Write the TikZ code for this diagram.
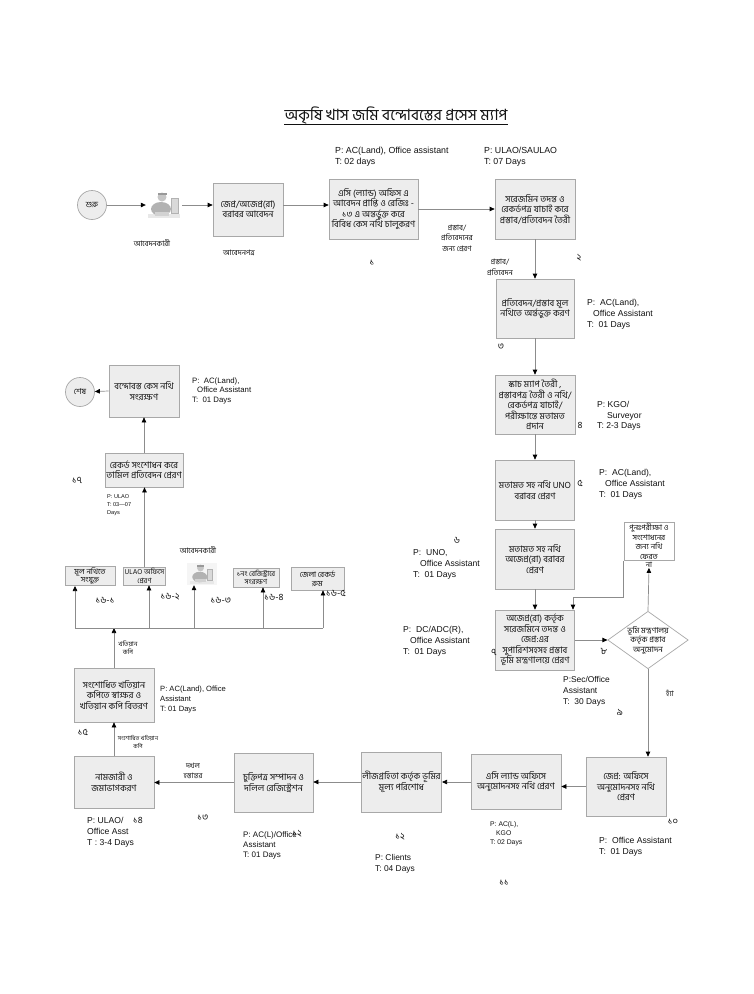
\documentclass[tikz,border=0pt]{standalone}
\usepackage{fontspec}
\setmainfont{Liberation Sans}
\newfontfamily\bn[Script=Bengali]{Hind Siliguri}
\usetikzlibrary{arrows.meta,shapes.geometric,calc}
\definecolor{boxfill}{HTML}{EDEDED}
\definecolor{boxline}{HTML}{A8A8A8}
\definecolor{conn}{HTML}{8C8C8C}
\definecolor{ink}{HTML}{111111}
\tikzset{
  pbox/.style={draw=boxline, line width=0.7pt, fill=boxfill, align=center, inner sep=1pt, text=ink,
     font=\bn\fontsize{9}{10.5}\selectfont},
  sbox/.style={pbox, font=\bn\fontsize{7.8}{8.6}\selectfont},
  flow/.style={draw=conn, line width=0.7pt, -{Triangle[length=5pt,width=4.5pt,color=black]}},
  plain/.style={draw=conn, line width=0.7pt},
  info/.style 2 args={font=\fontsize{#1}{#2}\selectfont, align=left, anchor=north west, inner sep=0pt, text=ink},
  num/.style={font=\bn\fontsize{9.5}{10}\selectfont, inner sep=0pt, text=ink},
  lbl/.style={font=\bn\fontsize{7.5}{10.5}\selectfont, align=center, inner sep=0pt, text=ink},
  term/.style={circle, draw=boxline, line width=0.7pt, fill=boxfill, minimum size=29pt, inner sep=0pt, text=ink, font=\bn\fontsize{8}{9}\selectfont},
  iconbox/.style={inner sep=0pt, minimum width=36pt, minimum height=30pt},
  personpic/.pic={
    \fill[gray!18] (-16,9) rectangle (16,13);
    \fill[gray!30] (7,-7) rectangle (14,8);
    \draw[gray!60, line width=0.4pt] (7,-7) rectangle (14,8);
    \fill[gray!60] (-3,4) ellipse [x radius=10, y radius=7];
    \fill[gray!45] (-2,-8) circle [radius=4.5];
    \fill[gray!80] (-6.5,-12.5) rectangle (2.5,-10);
    \fill[gray!35] (-9,7) rectangle (5,11);
  },
}
\begin{document}
\begin{tikzpicture}[x=1pt,y=-1pt]
\useasboundingbox (0,0) rectangle (754,994);
\fill[white] (0,0) rectangle (754,994);

% title
\node[font=\bn\fontsize{15.5}{17}\selectfont, anchor=base, inner sep=0pt, text=ink] (title) at (396,120) {অকৃষি খাস জমি বন্দোবস্তের প্রসেস ম্যাপ};
\draw[ink, line width=0.7pt] ([yshift=-4pt]title.base west) -- ([yshift=-4pt]title.base east);

% ---- top row
\node[term] (start) at (92,205) {শুরু};
\node[iconbox] (ic1) at (164,205) {};
\pic at (ic1) {personpic};
\node[lbl] (lapp1) at (152,243) {আবেদনকারী};
\node[pbox, minimum width=70pt, minimum height=53pt] (bA) at (248,209.5) {জেপ্র/অজেপ্র(রা)\\বরাবর আবেদন};
\node[lbl] (lpatra) at (239,253) {আবেদনপত্র};
\node[pbox, minimum width=89pt, minimum height=60pt] (b1) at (373.5,209) {এসি (ল্যান্ড) অফিস এ\\আবেদন প্রাপ্তি ও রেজিঃ -\\১৩ এ অন্তর্ভুক্ত করে\\বিবিধ কেস নথি চালুকরণ};
\node[pbox, minimum width=80pt, minimum height=60pt] (b2) at (535,209) {সরেজমিন তদন্ত ও\\রেকর্ডপত্র যাচাই করে\\প্রস্তাব/প্রতিবেদন তৈরী};
\node[lbl] (lsend) at (457,238) {প্রস্তাব/\\প্রতিবেদনের\\জন্য প্রেরণ};
\node[info={8.8}{11}] (i1) at (335,146.5) {P: AC(Land), Office assistant\\T: 02 days};
\node[info={8.8}{11}] (i2) at (484,146.5) {P: ULAO/SAULAO\\T: 07 Days};
\node[num] (n1) at (372,263) {১};
\node[num] (n2) at (579,258) {২};

\draw[flow] (start.east) -- (start -| ic1.west);
\draw[flow] (start -| ic1.east) -- (start -| bA.west);
\draw[flow] (start -| bA.east) -- (start -| b1.west);
\draw[flow] (b1.east) -- (b1.east -| b2.west);

% ---- right column
\node[pbox, minimum width=78pt, minimum height=59pt] (b3) at (535,308.5) {প্রতিবেদন/প্রস্তাব মূল\\নথিতে অর্ন্তভুক্ত করণ};
\node[pbox, minimum width=80pt, minimum height=59pt] (b4) at (535,404.5) {স্কাচ ম্যাপ তৈরী ,\\প্রস্তাবপত্র তৈরী ও নথি/\\রেকর্ডপত্র যাচাই/\\পরীক্ষান্তে মতামত\\প্রদান};
\node[pbox, minimum width=79pt, minimum height=60pt] (b5) at (535,490) {মতামত সহ নথি UNO\\বরাবর প্রেরণ};
\node[pbox, minimum width=79pt, minimum height=60pt] (b6) at (535,559) {মতামত সহ নথি\\অজেপ্র(রা) বরাবর\\প্রেরণ};
\node[pbox, minimum width=79pt, minimum height=60pt] (b7) at (535,640) {অজেপ্র(রা) কর্তৃক\\সরেজমিনে তদন্ত ও\\জেপ্র:এর\\সুপারিশসহসহ প্রস্তাব\\ভূমি মন্ত্রণালয়ে প্রেরণ};
\node[diamond, draw=boxline, line width=0.7pt, fill=white, minimum width=80pt, minimum height=57pt, inner sep=0pt, aspect=1.4, align=center, text=ink, font=\bn\fontsize{8}{9.5}\selectfont] (d) at (648,640) {ভূমি মন্ত্রণালয়\\কর্তৃক প্রস্তাব\\অনুমোদন};
\node[pbox, fill=white, minimum width=50pt, minimum height=37pt, font=\bn\fontsize{7.8}{9.6}\selectfont] (ret) at (649,541.5) {পুনঃপরীক্ষা ও\\সংশোধনের\\জন্য নথি\\ফেরত};
\node[lbl] (no) at (649,565) {না};
\node[lbl] (yes) at (670,693) {হ্যাঁ};
\node[lbl] (lprs) at (500,267.5) {প্রস্তাব/\\প্রতিবেদন};
\coordinate (rj) at (573,597);

\draw[flow] (b2.south) -- (b3.north);
\draw[flow] (b3) -- (b4);
\draw[flow] (b4) -- (b5);
\draw[flow] (b5) -- (b6);
\draw[flow] (b6) -- (b7);
\draw[flow] (b7) -- (d);
\draw[flow] (d.north) -- (no.south);
\draw[flow] (ret.south west) |- (rj) -- (rj |- b7.north);

\node[info={8.6}{11}] (i3) at (587,299.5) {P:~~AC(Land),\\\hspace*{6pt}Office Assistant\\T:~~01 Days};
\node[info={8.6}{10.5}] (i4) at (597,401.5) {P: KGO/\\\hspace*{10pt}Surveyor\\T: 2-3 Days};
\node[info={8.6}{11}] (i5) at (599,469.5) {P:~~AC(Land),\\\hspace*{6pt}Office Assistant\\T:~~01 Days};
\node[info={8.6}{11}] (i6) at (413,549.5) {P:~~UNO,\\\hspace*{7pt}Office Assistant\\T:~~01 Days};
\node[info={8.6}{11}] (i7) at (403,626.5) {P:~~DC/ADC(R),\\\hspace*{7pt}Office Assistant\\T:~~01 Days};
\node[info={8.4}{11}] (i8) at (563,676.5) {P:Sec/Office\\Assistant\\T:~~30 Days};
\node[num] (n3) at (501,347) {৩};
\node[num] (n4) at (580,425) {৪};
\node[num] (n5) at (580,483) {৫};
\node[num] (n6) at (457,540) {৬};
\node[num] (n7) at (494,652) {৭};
\node[num] (n8) at (604,651) {৮};
\node[num] (n9) at (620,712) {৯};

% ---- bottom row
\node[pbox, minimum width=80pt, minimum height=59pt] (b10) at (626,786.5) {জেপ্র: অফিসে\\অনুমোদনসহ নথি\\প্রেরণ};
\node[pbox, minimum width=90pt, minimum height=55pt] (b11) at (516,781.5) {এসি ল্যান্ড অফিসে\\অনুমোদনসহ নথি প্রেরণ};
\node[pbox, minimum width=79pt, minimum height=60pt] (b12) at (401.5,782) {লীজগ্রহিতা কর্তৃক ভূমির\\মূল্য পরিশোধ};
\node[pbox, minimum width=79pt, minimum height=59pt] (b13) at (273.5,782.5) {চুক্তিপত্র সম্পাদন ও\\দলিল রেজিস্ট্রেশন};
\node[pbox, minimum width=80pt, minimum height=52pt] (b14) at (114,782) {নামজারী ও\\জমাভাগকরণ};
\node[lbl, font=\bn\fontsize{7.4}{10}\selectfont] (ldakhal) at (193,770.5) {দখল\\হস্তান্তর};

\draw[flow] (d.south) -- (d.south |- b10.north);
\draw[flow] (b10.west) -- (b10.west -| b11.east);
\draw[flow] (b11.west |- b12) -- (b12.east);
\draw[flow] (b12.west) -- (b12.west -| b13.east);
\draw[flow] (b13.west) -- (b13.west -| b14.east);

\node[info={8.6}{11}] (i9) at (599,837.5) {P:~~Office Assistant\\T:~~01 Days};
\node[info={6.8}{9}] (i10) at (490,821.5) {P: AC(L),\\\hspace*{6pt}KGO\\T: 02 Days};
\node[info={8.4}{11}] (i11) at (375,854.5) {P: Clients\\T: 04 Days};
\node[info={8}{10}] (i12) at (243,831.5) {P: AC(L)/Office\\Assistant\\T: 01 Days};
\node[info={8.6}{11}] (i13) at (87,817.5) {P: ULAO/\\Office Asst\\T : 3-4 Days};
\node[num] (n10) at (673,822) {১০};
\node[num] (n11) at (504,883) {১১};
\node[num] (n12) at (400,837) {১২};
\node[num] (n12b) at (297,834) {১২};
\node[num] (n13) at (203,818) {১৩};
\node[num] (n14) at (138,820) {১৪};

% ---- left column
\node[pbox, minimum width=80pt, minimum height=54pt] (b15) at (114,695) {সংশোধিত খতিয়ান\\কপিতে স্বাক্ষর ও\\খতিয়ান কপি বিতরণ};
\node[info={7.6}{10}] (i14) at (160,685.5) {P: AC(Land), Office\\Assistant\\T: 01 Days};
\node[num] (n15) at (83,732) {১৫};
\node[lbl, font=\bn\fontsize{5.8}{7.5}\selectfont] (lsk) at (138,742) {সংশোধিত খতিয়ান\\কপি};
\node[lbl, font=\bn\fontsize{6.4}{8.5}\selectfont] (lkk) at (128,647.5) {খতিয়ান\\কপি};

\coordinate (busL) at (75,628);
\coordinate (busR) at (323,628);
\coordinate (j2) at (149,628);
\coordinate (j3) at (194,628);
\coordinate (j4) at (263,628);

\node[sbox, minimum width=50pt, minimum height=18pt] (s1) at (90,576) {মূল নথিতে\\সংযুক্ত};
\node[sbox, minimum width=41pt, minimum height=18pt, font=\bn\fontsize{7.2}{8.4}\selectfont] (s2) at (144.5,576) {ULAO অফিসে\\প্রেরণ};
\node[iconbox, minimum width=30pt, minimum height=22pt, fill=gray!8] (ic2) at (202,574) {};
\pic[scale=0.75] at (ic2) {personpic};
\node[lbl] (lapp2) at (198,550) {আবেদনকারী};
\node[sbox, minimum width=46pt, minimum height=19pt, font=\bn\fontsize{7.2}{8.4}\selectfont] (s4) at (256,577.5) {১নং রেজিস্ট্রারে\\সংরক্ষণ};
\node[sbox, minimum width=53pt, minimum height=23pt] (s5) at (317.5,578.5) {জেলা রেকর্ড\\রুম};
\node[num] (n161) at (105,600) {১৬-১};
\node[num] (n162) at (170,597) {১৬-২};
\node[num] (n163) at (221,600) {১৬-৩};
\node[num] (n164) at (274,597) {১৬-৪};
\node[num] (n165) at (336,593) {১৬-৫};

\draw[flow] (b14.north) -- (b15.south);
\draw[flow] (b15.north) -- (b15.north |- busL);
\draw[plain] (busL) -- (busR);
\draw[flow] (busL) -- (busL |- s1.south);
\draw[flow] (j2) -- (j2 |- s2.south);
\draw[flow] (j3) -- (j3 |- ic2.south);
\draw[flow] (j4) -- (j4 |- s4.south);
\draw[flow] (busR) -- (busR |- s5.south);

\node[pbox, minimum width=78pt, minimum height=34pt] (b17) at (144,470) {রেকর্ড সংশোধন করে\\তামিল প্রতিবেদন প্রেরণ};
\node[pbox, minimum width=70pt, minimum height=52pt] (b18) at (144,391) {বন্দোবস্ত কেস নথি\\সংরক্ষণ};
\node[term] (end) at (80,392) {শেষ};
\node[num] (n17) at (77,480) {১৭};
\node[info={5.6}{8}] (i16) at (107,494) {P: ULAO\\T: 03---07\\Days};
\node[info={7.8}{9.5}] (i15) at (192,377.5) {P:~~AC(Land),\\\hspace*{5pt}Office Assistant\\T:~~01 Days};

\draw[flow] (s2.north) -- (s2.north |- b17.south);
\draw[flow] (b17) -- (b18);
\draw[flow] (b18.west) -- (end);
\end{tikzpicture}
\end{document}
